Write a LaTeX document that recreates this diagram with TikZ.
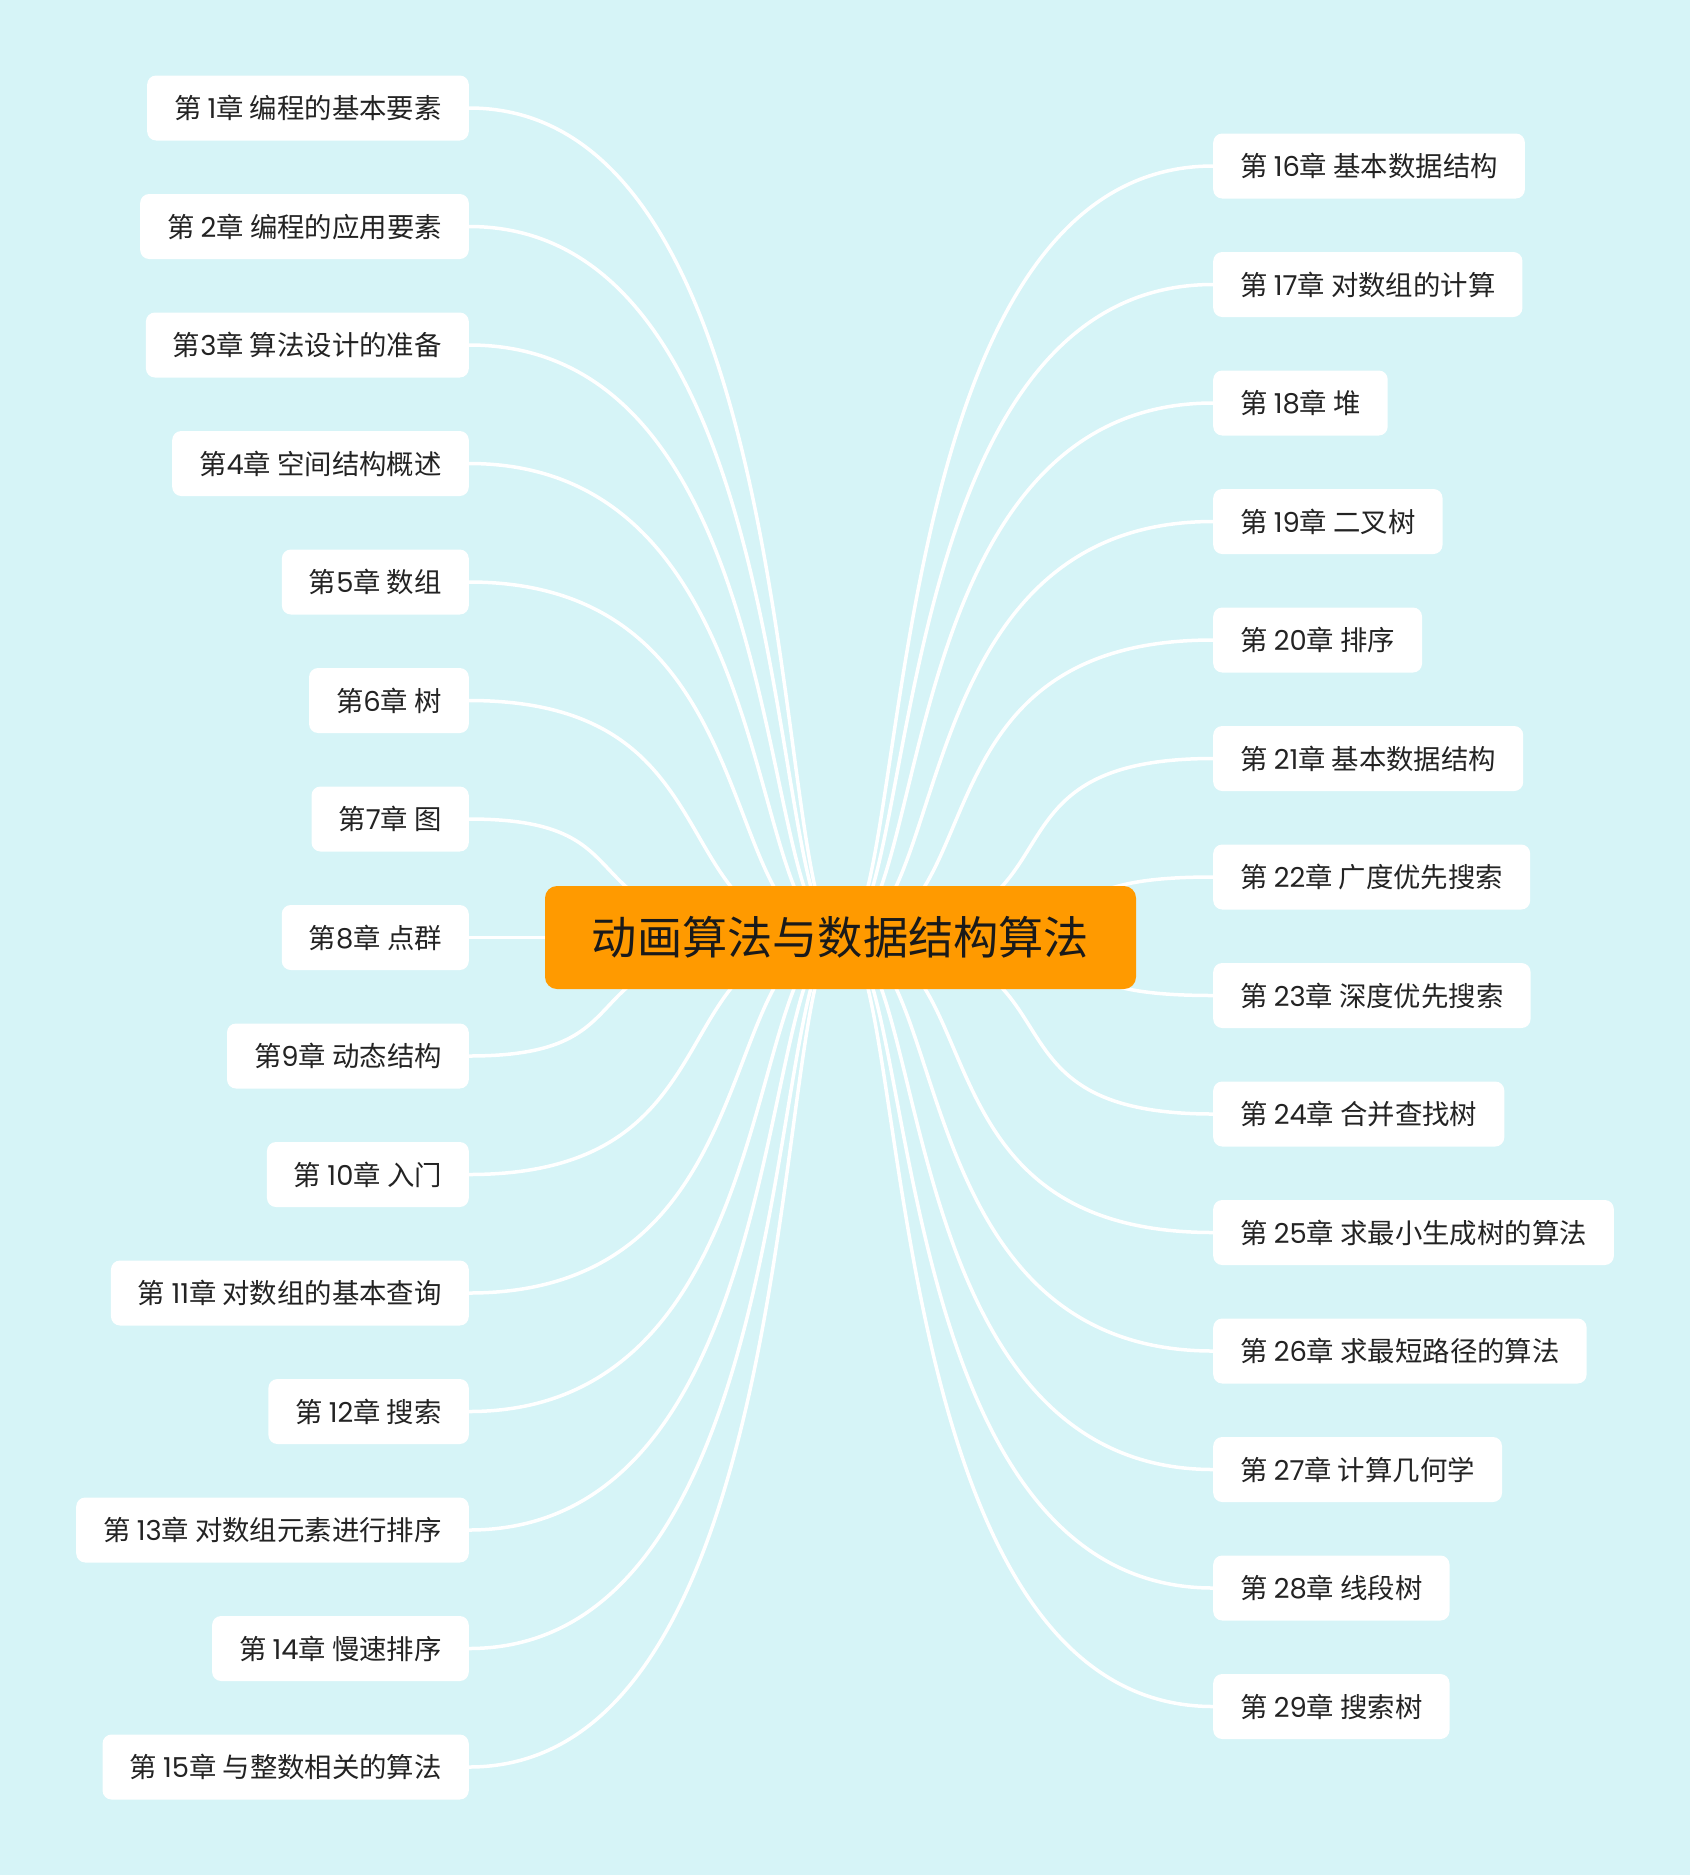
\documentclass[tikz,border=0pt]{standalone}
\usepackage{fontspec}
\setmainfont{Noto Sans CJK SC}
\newfontfamily\dg{Poppins}
\definecolor{bgc}{HTML}{D6F4F7}
\definecolor{orangec}{HTML}{FF9A00}
\definecolor{textc}{HTML}{232323}
\definecolor{titlec}{HTML}{1A1A1A}
\pgfdeclarelayer{bg}
\pgfsetlayers{bg,main}
\begin{document}
\begin{tikzpicture}[x=1pt,y=-1pt,
  chap/.style={fill=white, rounded corners=9pt, inner xsep=27pt, inner ysep=0pt,
    minimum height=65pt, font=\fontsize{27.4}{31}\selectfont, text=textc},
  rootbox/.style={fill=orangec, rounded corners=12pt, minimum width=591pt,
    minimum height=103pt, inner sep=0pt, font=\fontsize{45.2}{52}\selectfont, text=titlec},
  link/.style={draw=white, line width=3.5pt}]
\useasboundingbox (0,0) rectangle (1690,1875);
\begin{pgfonlayer}{bg}
\fill[bgc] (0,0) rectangle (1690,1875);
\end{pgfonlayer}

\node[rootbox] (root) at (840.5,937.5) {动画算法与数据结构算法};

% left chapters
\node[chap, anchor=east] (l1)  at (469,108)    {第 {\dg 1}章 编程的基本要素};
\node[chap, anchor=east] (l2)  at (469,226.5)  {第 {\dg 2}章 编程的应用要素};
\node[chap, anchor=east] (l3)  at (469,345)    {第{\dg 3}章 算法设计的准备};
\node[chap, anchor=east] (l4)  at (469,463.5)  {第{\dg 4}章 空间结构概述};
\node[chap, anchor=east] (l5)  at (469,582)    {第{\dg 5}章 数组};
\node[chap, anchor=east] (l6)  at (469,700.5)  {第{\dg 6}章 树};
\node[chap, anchor=east] (l7)  at (469,819)    {第{\dg 7}章 图};
\node[chap, anchor=east] (l8)  at (469,937.5)  {第{\dg 8}章 点群};
\node[chap, anchor=east] (l9)  at (469,1056)   {第{\dg 9}章 动态结构};
\node[chap, anchor=east] (l10) at (469,1174.5) {第 {\dg 10}章 入门};
\node[chap, anchor=east] (l11) at (469,1293)   {第 {\dg 11}章 对数组的基本查询};
\node[chap, anchor=east] (l12) at (469,1411.5) {第 {\dg 12}章 搜索};
\node[chap, anchor=east] (l13) at (469,1530)   {第 {\dg 13}章 对数组元素进行排序};
\node[chap, anchor=east] (l14) at (469,1648.5) {第 {\dg 14}章 慢速排序};
\node[chap, anchor=east] (l15) at (469,1767)   {第 {\dg 15}章 与整数相关的算法};

% right chapters
\node[chap, anchor=west] (r16) at (1213,166)    {第 {\dg 16}章 基本数据结构};
\node[chap, anchor=west] (r17) at (1213,284.5)  {第 {\dg 17}章 对数组的计算};
\node[chap, anchor=west] (r18) at (1213,403)    {第 {\dg 18}章 堆};
\node[chap, anchor=west] (r19) at (1213,521.5)  {第 {\dg 19}章 二叉树};
\node[chap, anchor=west] (r20) at (1213,640)    {第 {\dg 20}章 排序};
\node[chap, anchor=west] (r21) at (1213,758.5)  {第 {\dg 21}章 基本数据结构};
\node[chap, anchor=west] (r22) at (1213,877)    {第 {\dg 22}章 广度优先搜索};
\node[chap, anchor=west] (r23) at (1213,995.5)  {第 {\dg 23}章 深度优先搜索};
\node[chap, anchor=west] (r24) at (1213,1114)   {第 {\dg 24}章 合并查找树};
\node[chap, anchor=west] (r25) at (1213,1232.5) {第 {\dg 25}章 求最小生成树的算法};
\node[chap, anchor=west] (r26) at (1213,1351)   {第 {\dg 26}章 求最短路径的算法};
\node[chap, anchor=west] (r27) at (1213,1469.5) {第 {\dg 27}章 计算几何学};
\node[chap, anchor=west] (r28) at (1213,1588)   {第 {\dg 28}章 线段树};
\node[chap, anchor=west] (r29) at (1213,1706.5) {第 {\dg 29}章 搜索树};

\begin{pgfonlayer}{bg}
\foreach \i/\a/\b in {1/345/70, 2/337/75, 3/328/85, 4/318/98, 5/305/128, 6/275/185, 7/205/305,
                       9/205/305, 10/275/185, 11/305/128, 12/318/98, 13/328/85, 14/337/75, 15/345/70}
  \draw[link] (l\i.east) .. controls +(\a,0) and +(-\b,0) .. (root.center);
\draw[link] (l8.east) -- (root.center);
\foreach \i/\a/\b in {16/341/72, 17/332/78, 18/323/90, 19/312/112, 20/310/158, 21/258/265, 22/190/300,
                       23/190/300, 24/258/265, 25/310/158, 26/312/112, 27/323/90, 28/332/78, 29/341/72}
  \draw[link] (r\i.west) .. controls +(-\a,0) and +(\b,0) .. (root.center);
\end{pgfonlayer}
\end{tikzpicture}
\end{document}
